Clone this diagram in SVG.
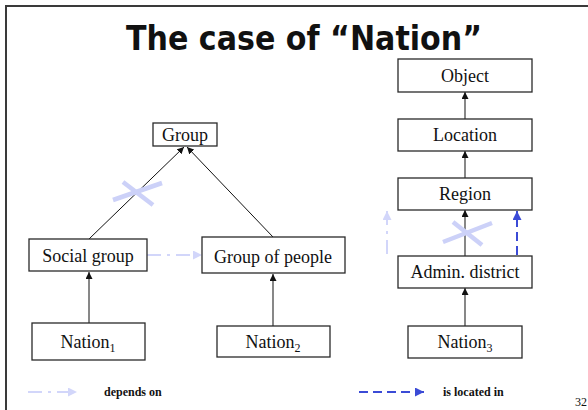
<svg xmlns="http://www.w3.org/2000/svg" width="588" height="410" viewBox="0 0 588 410">
  <style>
    .box { fill: #ffffff; stroke: #2a2a2a; stroke-width: 1.3; }
    .lbl { font-family: "Liberation Serif", "Times New Roman", serif; font-size: 18px; fill: #111; text-anchor: middle; }
    .sub { font-size: 12px; }
    .isa { fill: none; stroke: #111; stroke-width: 1; }
    .isa-g { fill: none; stroke: #6a6a6a; stroke-width: 1.6; }
    .dep { fill: none; stroke: #d2d6fa; stroke-width: 2; stroke-dasharray: 14 6 3 6; }
    .loc { fill: none; stroke: #3b4bd6; stroke-width: 2; stroke-dasharray: 9 5; }
    .cross { stroke: #ccd1f8; stroke-width: 4.5; }
    .legend { font-family: "Liberation Serif", "Times New Roman", serif; font-size: 12px; font-weight: bold; fill: #111; }
  </style>
  <defs>
    <marker id="head" viewBox="0 0 8 8" refX="8" refY="4" markerWidth="7" markerHeight="7" markerUnits="userSpaceOnUse" orient="auto">
      <path d="M0,0 L8,4 L0,8 z" fill="#111"/>
    </marker>
    <marker id="head-dep" viewBox="0 0 8 8" refX="8" refY="4" markerWidth="9" markerHeight="9" markerUnits="userSpaceOnUse" orient="auto">
      <path d="M0,0 L8,4 L0,8 z" fill="#d2d6fa"/>
    </marker>
    <marker id="head-loc" viewBox="0 0 8 8" refX="8" refY="4" markerWidth="9" markerHeight="9" markerUnits="userSpaceOnUse" orient="auto">
      <path d="M0,0 L8,4 L0,8 z" fill="#3b4bd6"/>
    </marker>
  </defs>

  <rect width="588" height="410" fill="#ffffff"/>

  <!-- slide frame -->
  <g id="frame" stroke="#3a3a3a" stroke-width="2" fill="none">
    <line x1="5" y1="6" x2="588" y2="6"/>
    <line x1="6" y1="5" x2="6" y2="410"/>
  </g>

  <text id="title" x="304" y="50" text-anchor="middle" font-family="'DejaVu Sans', 'Liberation Sans', sans-serif" font-weight="bold" font-size="33" fill="#111" textLength="356" lengthAdjust="spacingAndGlyphs">The case of “Nation”</text>

  <!-- connectors -->
  <g id="connectors">
    <line class="isa" x1="89" y1="239" x2="184" y2="147" marker-end="url(#head)"/>
    <line class="isa" x1="273" y1="237" x2="187" y2="147" marker-end="url(#head)"/>
    <line class="isa" x1="89" y1="323" x2="89" y2="272" marker-end="url(#head)"/>
    <line class="isa-g" x1="273" y1="326" x2="273" y2="274" marker-end="url(#head)"/>
    <line class="dep" x1="147" y1="255" x2="202" y2="255" marker-end="url(#head-dep)"/>

    <line class="isa-g" x1="465" y1="119" x2="465" y2="92" marker-end="url(#head)"/>
    <line class="isa-g" x1="465" y1="178" x2="465" y2="151" marker-end="url(#head)"/>
    <line class="isa-g" x1="465" y1="256" x2="465" y2="210" marker-end="url(#head)"/>
    <line class="isa-g" x1="465" y1="326" x2="465" y2="288" marker-end="url(#head)"/>
    <line class="loc" x1="517" y1="255" x2="517" y2="211" marker-end="url(#head-loc)"/>
    <line class="dep" x1="387" y1="254" x2="387" y2="211" marker-end="url(#head-dep)"/>

    <!-- struck-out links -->
    <line class="cross" x1="113" y1="200" x2="162" y2="183"/>
    <line class="cross" x1="123" y1="182" x2="153" y2="205"/>
    <line class="cross" x1="443" y1="242" x2="492" y2="223"/>
    <line class="cross" x1="453" y1="222" x2="482" y2="245"/>
  </g>

  <!-- nodes -->
  <g id="group">
    <rect class="box" x="153" y="123" width="64" height="23"/>
    <text class="lbl" x="185" y="141">Group</text>
  </g>
  <g id="social-group">
    <rect class="box" x="29" y="239" width="118" height="32"/>
    <text class="lbl" x="88" y="262">Social group</text>
  </g>
  <g id="group-of-people">
    <rect class="box" x="202" y="237" width="143" height="36"/>
    <text class="lbl" x="273" y="263">Group of people</text>
  </g>
  <g id="nation1">
    <rect class="box" x="32" y="323" width="113" height="37"/>
    <text class="lbl" x="88" y="348">Nation<tspan class="sub" dy="4">1</tspan></text>
  </g>
  <g id="nation2">
    <rect class="box" x="217" y="326" width="113" height="31"/>
    <text class="lbl" x="273" y="348">Nation<tspan class="sub" dy="4">2</tspan></text>
  </g>
  <g id="object">
    <rect class="box" x="398" y="59" width="134" height="33"/>
    <text class="lbl" x="465" y="82">Object</text>
  </g>
  <g id="location">
    <rect class="box" x="398" y="119" width="134" height="32"/>
    <text class="lbl" x="465" y="141">Location</text>
  </g>
  <g id="region">
    <rect class="box" x="398" y="178" width="134" height="32"/>
    <text class="lbl" x="465" y="200">Region</text>
  </g>
  <g id="admin-district">
    <rect class="box" x="398" y="256" width="134" height="32"/>
    <text class="lbl" x="465" y="278">Admin. district</text>
  </g>
  <g id="nation3">
    <rect class="box" x="408" y="326" width="114" height="32"/>
    <text class="lbl" x="465" y="348">Nation<tspan class="sub" dy="4">3</tspan></text>
  </g>

  <!-- legend -->
  <g id="legend">
    <line class="dep" x1="28" y1="392" x2="77" y2="392" marker-end="url(#head-dep)"/>
    <text class="legend" x="104" y="396">depends on</text>
    <line class="loc" x1="359" y1="392" x2="424" y2="392" marker-end="url(#head-loc)"/>
    <text class="legend" x="443" y="396">is located in</text>
  </g>

  <text id="page" x="587" y="406" text-anchor="end" font-family="'Liberation Serif', serif" font-size="12" fill="#111">32</text>
</svg>
